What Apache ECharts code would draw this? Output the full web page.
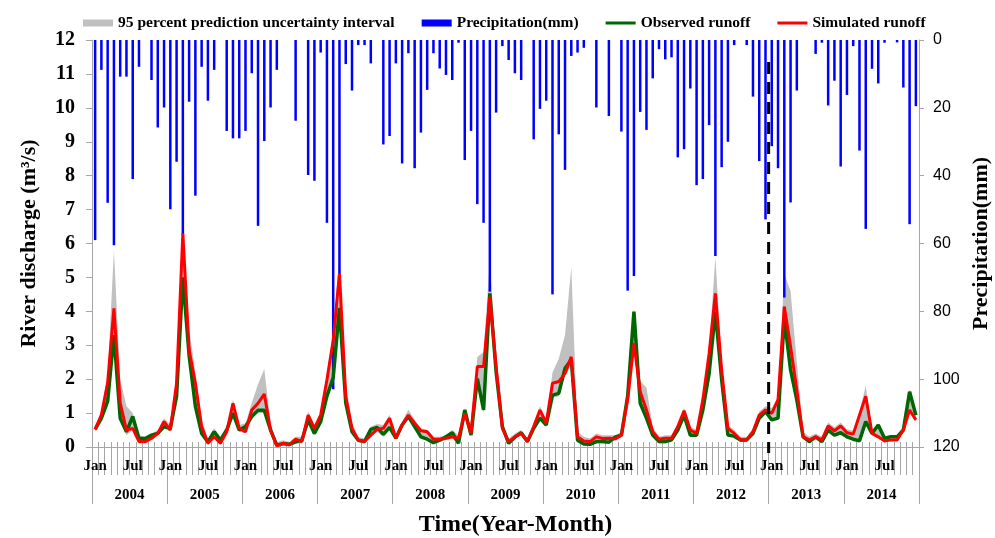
<!DOCTYPE html>
<html>
<head>
<meta charset="utf-8">
<script src="https://cdn.jsdelivr.net/npm/echarts@6/dist/echarts.min.js"></script>
<style>
  html, body { margin: 0; padding: 0; background: #fff; }
  #chart { width: 995px; height: 538px; }
</style>
</head>
<body>
<div id="chart"></div>
<script>
// monthly series, Jan 2004 .. Dec 2014
const years = ["2004", "2005", "2006", "2007", "2008", "2009", "2010", "2011", "2012", "2013", "2014"];
const monthNames = ["Jan", "Feb", "Mar", "Apr", "May", "Jun", "Jul", "Aug", "Sep", "Oct", "Nov", "Dec"];

const observed = [
  0.52, 0.85, 1.35, 3.3, 0.85, 0.45, 0.9, 0.25, 0.25, 0.35, 0.4, 0.6,
  0.55, 1.5, 5.0, 2.7, 1.2, 0.4, 0.15, 0.45, 0.2, 0.5, 1.0, 0.5,
  0.6, 0.9, 1.08, 1.08, 0.5, 0.05, 0.1, 0.08, 0.15, 0.2, 0.8, 0.4,
  0.75, 1.5, 2.05, 4.1, 1.3, 0.45, 0.2, 0.16, 0.52, 0.58, 0.37, 0.58,
  0.26, 0.65, 0.9, 0.6, 0.3, 0.23, 0.13, 0.2, 0.3, 0.42, 0.11, 1.09,
  0.35, 2.02, 1.09, 4.53, 2.22, 0.6, 0.11, 0.29, 0.42, 0.16, 0.55, 0.85,
  0.65, 1.53, 1.58, 2.32, 2.57, 0.2, 0.09, 0.08, 0.16, 0.16, 0.14, 0.29,
  0.35, 1.5, 3.99, 1.29, 0.85, 0.35, 0.16, 0.16, 0.21, 0.5, 0.94, 0.35,
  0.35, 1.09, 2.17, 3.99, 1.98, 0.35, 0.32, 0.21, 0.21, 0.4, 0.85, 1.04,
  0.8, 0.85, 3.79, 2.27, 1.39, 0.3, 0.16, 0.3, 0.16, 0.5, 0.35, 0.42,
  0.3, 0.23, 0.18, 0.75, 0.4, 0.65, 0.26, 0.3, 0.3, 0.5, 1.63, 0.94
];

const simulated = [
  0.52, 0.95, 1.9, 4.09, 1.3, 0.5, 0.55, 0.16, 0.16, 0.26, 0.4, 0.75,
  0.5, 1.88, 6.3, 2.86, 1.88, 0.6, 0.11, 0.3, 0.11, 0.45, 1.29, 0.55,
  0.45, 1.09, 1.29, 1.56, 0.5, 0.03, 0.11, 0.06, 0.23, 0.16, 0.94, 0.55,
  0.94, 1.98, 3.15, 5.12, 1.48, 0.55, 0.2, 0.16, 0.35, 0.52, 0.55, 0.85,
  0.26, 0.65, 0.94, 0.7, 0.48, 0.45, 0.23, 0.23, 0.26, 0.3, 0.26, 0.99,
  0.4, 2.37, 2.37, 4.43, 2.37, 0.55, 0.16, 0.3, 0.4, 0.16, 0.6, 1.09,
  0.7, 1.88, 1.93, 2.17, 2.66, 0.3, 0.18, 0.16, 0.3, 0.25, 0.26, 0.24,
  0.35, 1.4, 3.06, 1.63, 1.09, 0.45, 0.23, 0.26, 0.26, 0.6, 1.07, 0.5,
  0.4, 1.39, 2.76, 4.53, 2.27, 0.55, 0.4, 0.21, 0.21, 0.45, 0.94, 1.09,
  0.99, 1.39, 4.14, 2.96, 1.68, 0.3, 0.21, 0.3, 0.21, 0.62, 0.48, 0.62,
  0.42, 0.38, 0.94, 1.5, 0.4, 0.3, 0.18, 0.21, 0.21, 0.5, 1.09, 0.8
];

const bandUpper = [
  0.6, 1.05, 2.1, 5.8, 2.0, 1.2, 1.0, 0.35, 0.3, 0.4, 0.5, 0.85,
  0.65, 2.1, 6.4, 3.5, 2.2, 0.8, 0.25, 0.55, 0.3, 0.6, 1.4, 0.65,
  0.7, 1.3, 1.85, 2.3, 0.7, 0.15, 0.2, 0.15, 0.3, 0.3, 1.05, 0.65,
  1.05, 2.2, 3.4, 5.7, 1.9, 0.7, 0.3, 0.25, 0.6, 0.68, 0.65, 0.95,
  0.35, 0.75, 1.1, 0.8, 0.55, 0.5, 0.3, 0.3, 0.35, 0.5, 0.35, 1.15,
  0.5, 2.65, 2.8, 5.5, 2.6, 0.7, 0.25, 0.4, 0.5, 0.25, 0.7, 1.2,
  0.8, 2.2, 2.6, 3.3, 5.3, 0.45, 0.3, 0.25, 0.4, 0.35, 0.35, 0.35,
  0.45, 1.6, 4.1, 1.95, 1.75, 0.6, 0.3, 0.35, 0.35, 0.7, 1.15, 0.6,
  0.5, 1.5, 2.9, 5.6, 2.5, 0.65, 0.5, 0.3, 0.3, 0.55, 1.05, 1.2,
  1.15, 1.5, 5.1, 4.6, 2.5, 0.45, 0.3, 0.4, 0.3, 0.72, 0.58, 0.72,
  0.52, 0.48, 1.05, 1.8, 0.5, 0.7, 0.3, 0.35, 0.35, 0.6, 1.7, 1.0
];

const bandLower = [
  0.45, 0.75, 1.2, 3.0, 0.8, 0.35, 0.5, 0.1, 0.1, 0.2, 0.35, 0.55,
  0.45, 1.4, 4.8, 2.5, 1.1, 0.35, 0.05, 0.25, 0.05, 0.4, 0.9, 0.45,
  0.4, 0.85, 1.0, 1.0, 0.45, 0.0, 0.05, 0.02, 0.1, 0.1, 0.75, 0.35,
  0.7, 1.4, 1.9, 3.9, 1.2, 0.4, 0.15, 0.1, 0.3, 0.45, 0.3, 0.5,
  0.2, 0.6, 0.85, 0.55, 0.25, 0.2, 0.1, 0.15, 0.2, 0.25, 0.08, 0.9,
  0.3, 1.9, 1.0, 4.2, 2.1, 0.5, 0.08, 0.25, 0.35, 0.1, 0.5, 0.8,
  0.6, 1.45, 1.5, 2.1, 2.4, 0.15, 0.05, 0.05, 0.1, 0.1, 0.1, 0.2,
  0.3, 1.3, 2.9, 1.2, 0.8, 0.3, 0.1, 0.1, 0.15, 0.45, 0.9, 0.3,
  0.3, 1.0, 2.0, 3.8, 1.9, 0.3, 0.28, 0.15, 0.15, 0.35, 0.8, 1.0,
  0.75, 0.8, 3.6, 2.2, 1.3, 0.25, 0.1, 0.25, 0.1, 0.45, 0.3, 0.38,
  0.25, 0.2, 0.15, 0.7, 0.35, 0.25, 0.15, 0.18, 0.18, 0.45, 1.0, 0.75
];

const precipitation = [
  59, 8.8, 48, 60.5, 10.8, 10.8, 41, 7.9, 0, 11.8, 25.8, 19.9,
  49.9, 35.9, 57.5, 18.2, 45.9, 7.9, 17.9, 8.8, 0, 26.8, 29, 29,
  26.8, 9.8, 54.8, 29.8, 19.9, 8.8, 0, 0, 23.8, 0, 39.8, 41.5,
  3.7, 53.9, 103, 70, 7.1, 14.9, 1.5, 1.5, 6.9, 0, 30.8, 28.3,
  6.9, 36.4, 3.9, 37.8, 27.3, 14.7, 3.9, 8.4, 10.3, 11.8, 0.8, 35.4,
  26.8, 48.4, 53.9, 74.2, 21.4, 1.8, 5.9, 9.8, 11.8, 0, 29.3, 20.3,
  17.9, 75, 27.8, 38.3, 4.7, 3.7, 2.3, 0, 19.9, 0, 22.4, 0,
  27, 73.9, 69.6, 21.2, 26.5, 11.3, 2.7, 5.7, 5.1, 34.6, 32.2, 14.3,
  42.8, 41, 25.1, 63.7, 37.5, 30, 1.5, 0, 1.5, 16.7, 35.7, 52.9,
  31.3, 37.8, 75.9, 47.9, 14.9, 0, 0, 4.1, 0.8, 19.3, 12, 37.3,
  16.2, 1.8, 32.6, 55.7, 8.5, 12.8, 0.8, 0, 0.7, 14, 54.3, 19.5
];

// calibration / validation split: start of Jan 2013 (month boundary 108)
const splitLine = [[108, 11.35], [108, -0.18]];

const months = [];
years.forEach((y) => monthNames.forEach((m) => months.push(m + " " + y)));

const bandWidth = bandUpper.map((u, i) => +(u - bandLower[i]).toFixed(3));

const serif = "Liberation Serif";
const gray = "#a6a6a6";
const lineIcon = "path://M0,0 L30,0 L30,3 L0,3 Z";

const chart = echarts.init(document.getElementById("chart"));

const option = {
  animation: false,
  legend: {
    left: 78,
    top: 10,
    itemWidth: 30,
    itemHeight: 7,
    itemGap: 27,
    textStyle: { fontFamily: serif, fontWeight: "bold", fontSize: 15.5, color: "#000" },
    data: [
      { name: "95 percent prediction uncertainty interval", icon: "rect" },
      { name: "Precipitation(mm)", icon: "rect" },
      { name: "Observed runoff", icon: lineIcon },
      { name: "Simulated runoff", icon: lineIcon },
    ],
  },
  grid: { left: 92, right: 76, top: 40, bottom: 91, outerBoundsMode: "none", containLabel: false },
  xAxis: [
    {
      type: "category",
      position: "bottom",
      data: months,
      boundaryGap: true,
      axisLine: { show: true, onZero: false, lineStyle: { color: gray, width: 1 } },
      axisTick: { show: true, interval: 0, length: 28, lineStyle: { color: gray } },
      axisLabel: {
        interval: (i) => i % 6 === 0,
        formatter: (v) => v.split(" ")[0],
        margin: 12,
        fontFamily: serif,
        fontWeight: "bold",
        fontSize: 15,
        color: "#000",
      },
    },
    {
      type: "category",
      position: "bottom",
      data: years,
      boundaryGap: true,
      axisLine: { show: false, onZero: false },
      axisTick: { show: true, interval: 0, length: 57, lineStyle: { color: gray } },
      axisLabel: { margin: 41, fontFamily: serif, fontWeight: "bold", fontSize: 15, color: "#000" },
      name: "Time(Year-Month)",
      nameLocation: "middle",
      nameGap: 66,
      nameTextStyle: { fontFamily: serif, fontWeight: "bold", fontSize: 24, color: "#000", padding: [0, 0, 0, 20] },
    },
    {
      type: "category",
      position: "bottom",
      data: months,
      boundaryGap: true,
      axisLine: { show: false, onZero: false },
      axisTick: { show: true, interval: 0, inside: true, length: 5, lineStyle: { color: gray } },
      axisLabel: { show: false },
    },
    { type: "value", position: "bottom", min: 0, max: months.length, show: false },
  ],
  yAxis: [
    {
      type: "value",
      min: 0,
      max: 12,
      interval: 1,
      position: "left",
      splitLine: { show: false },
      axisLine: { show: true, onZero: false, lineStyle: { color: gray } },
      axisTick: { show: true, length: 6, lineStyle: { color: gray } },
      axisLabel: { margin: 17, fontFamily: serif, fontWeight: "bold", fontSize: 20, color: "#000" },
      name: "River discharge (m³/s)",
      nameLocation: "middle",
      nameGap: 52,
      nameTextStyle: { fontFamily: serif, fontWeight: "bold", fontSize: 22, color: "#000" },
    },
    {
      type: "value",
      min: 0,
      max: 120,
      interval: 20,
      inverse: true,
      position: "right",
      splitLine: { show: false },
      axisLine: { show: true, onZero: false, lineStyle: { color: gray } },
      axisTick: { show: true, length: 5, lineStyle: { color: gray } },
      axisLabel: { margin: 14, fontFamily: "Liberation Sans", fontSize: 16, color: "#000" },
      name: "Precipitation(mm)",
      nameLocation: "middle",
      nameRotate: 90,
      nameGap: 44,
      nameTextStyle: { fontFamily: serif, fontWeight: "bold", fontSize: 22, color: "#000" },
    },
  ],
  series: [
    {
      name: "band-lower",
      type: "line",
      stack: "band",
      data: bandLower,
      symbol: "none",
      lineStyle: { width: 0 },
      areaStyle: { opacity: 0 },
      silent: true,
      z: 1,
    },
    {
      name: "95 percent prediction uncertainty interval",
      type: "line",
      stack: "band",
      data: bandWidth,
      symbol: "none",
      color: "#c0c0c0",
      lineStyle: { width: 0 },
      areaStyle: { color: "#c0c0c0", opacity: 1 },
      z: 1,
    },
    {
      name: "Precipitation(mm)",
      type: "bar",
      yAxisIndex: 1,
      data: precipitation,
      barWidth: 2.5,
      color: "#0000ff",
      z: 2,
    },
    {
      name: "Observed runoff",
      type: "line",
      data: observed,
      symbol: "none",
      color: "#006600",
      lineStyle: { width: 3.5, color: "#006600" },
      z: 3,
    },
    {
      name: "Simulated runoff",
      type: "line",
      data: simulated,
      symbol: "none",
      color: "#ff0000",
      lineStyle: { width: 3, color: "#ff0000" },
      z: 4,
    },
    {
      name: "split",
      type: "line",
      xAxisIndex: 3,
      data: splitLine,
      symbol: "none",
      clip: false,
      silent: true,
      color: "#000",
      lineStyle: { color: "#000", width: 3, type: [12, 8] },
      z: 5,
    },
  ],
};

chart.setOption(option);
</script>
</body>
</html>
